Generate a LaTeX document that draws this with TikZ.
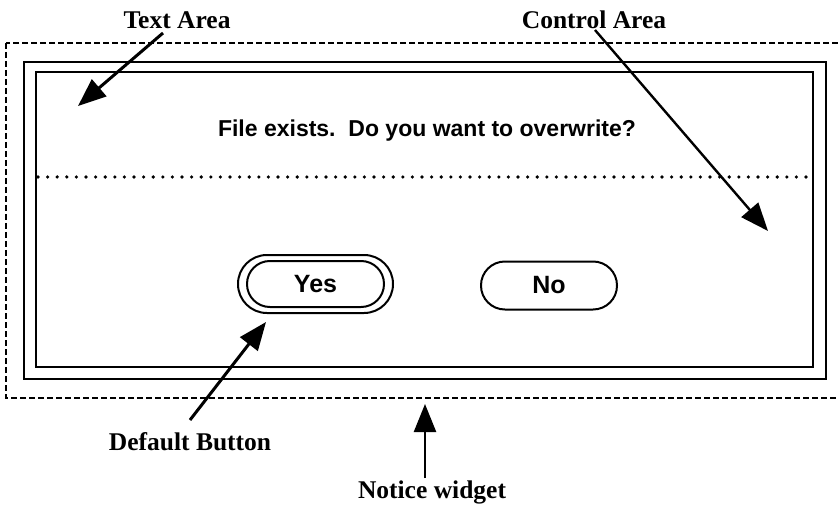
\documentclass[tikz,border=0pt]{standalone}
\usepackage{fontspec}
\setmainfont{Liberation Serif}
\newfontfamily\dlgfont{Liberation Sans}
\usetikzlibrary{arrows.meta}
\begin{document}
\begin{tikzpicture}[x=1pt,y=-1pt,
  callout/.style={font=\fontsize{25.5}{30}\selectfont\bfseries},
  dlgtext/.style={font=\dlgfont\fontsize{23}{28}\selectfont\bfseries},
  btntext/.style={font=\dlgfont\fontsize{25}{30}\selectfont\bfseries},
  pointer/.style={line width=3pt,-{Triangle[length=28pt,width=22pt]}},
  frame/.style={line width=2.2pt},
  btn/.style={line width=2pt}]
\useasboundingbox (0,0) rectangle (838,505);
% widget boundary (dashed)
\draw[line width=1.3pt,dash pattern=on 6pt off 3pt] (6,43) rectangle (850,398);
% notice frame
\draw[frame] (24,62) rectangle (826,379);
\draw[frame] (36,72) rectangle (813,367);
% separator between text and control areas
\draw[line width=3.6pt,dash pattern=on 0pt off 9.6pt,line cap=round] (38,177) -- (813,177);
% message
\node[dlgtext] (msg) at (427,131) {File exists.\ \ Do you want to overwrite?};
% buttons
\draw[btn,rounded corners=28.9pt] (238,255) rectangle (393,313);
\node[draw,btn,rounded corners=22.9pt,minimum width=137pt,minimum height=46pt,inner sep=0pt,btntext] (yes) at (315.5,284) {Yes};
\node[draw,btn,rounded corners=23.9pt,minimum width=136pt,minimum height=48pt,inner sep=0pt,btntext] (no) at (549,285.5) {No};
% callout labels
\node[callout] (ta) at (177,20) {Text Area};
\node[callout] (ca) at (594,20) {Control Area};
\node[callout] (db) at (190,442) {Default Button};
\node[callout] (nw) at (432,492) {Notice widget};
% pointer ends
\coordinate (taS) at (163,33);
\coordinate (taE) at (78,106);
\coordinate (caS) at (595,30);
\coordinate (caE) at (768,231);
\coordinate (dbS) at (190,420);
\coordinate (dbE) at (266,322);
\coordinate (nwS) at (425,478);
\coordinate (nwE) at (425,404);
\draw[pointer] (taS) -- (taE);
\draw[pointer,line width=2.4pt] (caS) -- (caE);
\draw[pointer] (dbS) -- (dbE);
\draw[pointer,line width=2.4pt] (nwS) -- (nwE);
\end{tikzpicture}
\end{document}
